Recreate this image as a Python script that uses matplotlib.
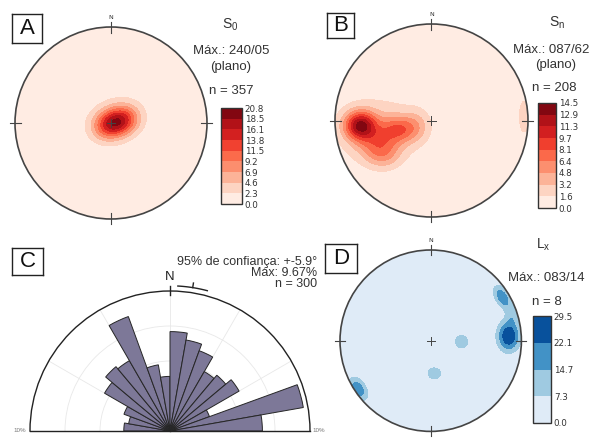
import numpy as np
import matplotlib.pyplot as plt
from matplotlib.patches import Circle

plt.rcParams['font.family'] = ['Liberation Sans', 'DejaVu Sans']
plt.rcParams['mathtext.fontset'] = 'custom'
plt.rcParams['mathtext.rm'] = 'Liberation Sans'

W, H = 597, 438

# --- A: S0 poles (density clusters read from the net: x, y, sx, sy, rot, peak)
a_levels = [0.0, 2.3, 4.6, 6.9, 9.2, 11.5, 13.8, 16.1, 18.5, 20.8]
a_x = [-0.02, 0.12, 0.05]
a_y = [-0.02, 0.03, 0.04]
a_sx = [0.12, 0.12, 0.24]
a_sy = [0.10, 0.10, 0.19]
a_rot = [20, 20, 15]
a_peak = [10.0, 10.0, 3.0]

# --- B: Sn poles
b_levels = [0.0, 1.6, 3.2, 4.8, 6.4, 8.1, 9.7, 11.3, 12.9, 14.5]
b_x = [-0.74, -0.33, -0.55, -0.55, -0.50, -0.15, 0.96]
b_y = [-0.05, -0.09, -0.22, -0.10, -0.36, -0.05, 0.04]
b_sx = [0.11, 0.12, 0.15, 0.32, 0.12, 0.10, 0.05]
b_sy = [0.10, 0.09, 0.13, 0.25, 0.10, 0.12, 0.16]
b_rot = [0, 0, 0, 0, 0, 0, 0]
b_peak = [10.5, 5.0, 4.0, 3.2, 2.5, 2.3, 2.6]

# --- D: Lx lineations
d_levels = [0.0, 7.3, 14.7, 22.1, 29.5]
d_x = [0.86, 0.79, 0.90, 0.34, 0.04, -0.80]
d_y = [0.05, 0.48, 0.29, -0.01, -0.36, -0.53]
d_sx = [0.085, 0.10, 0.05, 0.078, 0.08, 0.10]
d_sy = [0.115, 0.055, 0.08, 0.078, 0.07, 0.06]
d_rot = [0, -60, 0, 0, 0, -57]
d_peak = [29.5, 20.0, 9.0, 10.5, 10.5, 20.0]

# --- C: rose diagram (10 degree bins, % of n = 300)
rose_centers = [-85, -75, -65, -55, -45, -35, -25, -15, -5,
                5, 15, 25, 35, 45, 55, 65, 75, 85]
rose_freq = [3.3, 3.0, 3.5, 5.4, 6.0, 5.8, 8.7, 4.8, 3.9,
             7.1, 6.6, 6.1, 4.9, 5.2, 5.7, 3.0, 9.67, 6.6]
rose_mean = 9.0
rose_conf = 5.9

fig = plt.figure(figsize=(W / 100, H / 100), dpi=100)


def px_axes(left, top, width, height, **kw):
    return fig.add_axes([left / W, 1 - (top + height) / H, width / W, height / H], **kw)


def draw_net(cx, cy, r, blobs, levels, cmap, cbar_box):
    ext = 1.12
    ax = px_axes(cx - ext * r, cy - ext * r, 2 * ext * r, 2 * ext * r)
    ax.set_xlim(-ext, ext)
    ax.set_ylim(-ext, ext)
    ax.axis('off')
    g = np.linspace(-1.02, 1.02, 400)
    X, Y = np.meshgrid(g, g)
    Z = np.zeros_like(X)
    for bx, by, sx, sy, rot, peak in zip(*blobs):
        t = np.deg2rad(rot)
        u = (X - bx) * np.cos(t) + (Y - by) * np.sin(t)
        v = -(X - bx) * np.sin(t) + (Y - by) * np.cos(t)
        Z += peak * np.exp(-0.5 * ((u / sx) ** 2 + (v / sy) ** 2))
    Z = np.clip(Z, levels[0], levels[-1])
    cs = ax.contourf(X, Y, Z, levels=levels, cmap=cmap)
    rim = Circle((0, 0), 1, transform=ax.transData, fc='none', ec='#444', lw=1.2, zorder=3)
    cs.set_clip_path(rim)
    ax.add_patch(rim)
    # cardinal ticks and centre cross
    ax.plot([0, 0], [0.94, 1.05], color='#444', lw=0.8)
    ax.plot([0, 0], [-0.94, -1.05], color='#444', lw=0.8)
    ax.plot([0.94, 1.05], [0, 0], color='#444', lw=0.8)
    ax.plot([-0.94, -1.05], [0, 0], color='#444', lw=0.8)
    ax.plot([-0.045, 0.045], [0, 0], color='#444', lw=0.7)
    ax.plot([0, 0], [-0.045, 0.045], color='#444', lw=0.7)
    ax.text(0, 1.075, 'N', ha='center', va='bottom', fontsize=4.5,
            family='DejaVu Sans', color='#333')
    cax = px_axes(*cbar_box)
    cb = fig.colorbar(cs, cax=cax)
    cb.set_ticks(levels)
    cb.set_ticklabels([f'{v:.1f}' for v in levels])
    cb.ax.tick_params(length=0, labelsize=6.3, pad=2)
    for lab in cb.ax.get_yticklabels():
        lab.set_family('DejaVu Sans')
        lab.set_color('#333')
    cb.outline.set_edgecolor('#333')
    cb.outline.set_linewidth(1.0)
    return ax


def label_box(left, top, w, h, letter):
    bx = px_axes(left, top, w, h)
    bx.set_xticks([])
    bx.set_yticks([])
    for s in bx.spines.values():
        s.set_linewidth(1.0)
        s.set_color('#222')
    bx.text(0.5, 0.5, letter, ha='center', va='center', fontsize=16,
            transform=bx.transAxes, color='#111')


def ftext(x, y, s, size=9.5, ha='center'):
    fig.text(x / W, 1 - y / H, s, ha=ha, va='center', fontsize=size, color='#333')


# A
draw_net(111, 123, 96, (a_x, a_y, a_sx, a_sy, a_rot, a_peak), a_levels, 'Reds',
         (221, 108, 21, 96))
label_box(12, 14, 30, 29, 'A')
ftext(230, 25, r'$\mathrm{S_0}$', size=10)
ftext(231, 51, 'Máx.: 240/05')
ftext(231, 67, '(plano)')
ftext(231, 91, 'n = 357')

# B
draw_net(431.5, 120.5, 96.5, (b_x, b_y, b_sx, b_sy, b_rot, b_peak), b_levels, 'Reds',
         (538, 103, 18, 105))
label_box(327, 13, 27, 25, 'B')
ftext(557, 23, r'$\mathrm{S_n}$', size=10)
ftext(551, 50, 'Máx.: 087/62')
ftext(556, 65, '(plano)')
ftext(554, 88, 'n = 208')

# D
draw_net(430.7, 340.7, 90.7, (d_x, d_y, d_sx, d_sy, d_rot, d_peak), d_levels, 'Blues',
         (533, 316, 18, 107))
label_box(325, 244, 32, 29, 'D')
ftext(543, 245, r'$\mathrm{L_x}$', size=10)
ftext(546, 278, 'Máx.: 083/14')
ftext(547, 302, 'n = 8')

# C - half rose (square box: the semicircle fills its width, centred vertically)
ax = px_axes(30, 221, 280, 280, projection='polar')
ax.set_theta_zero_location('N')
ax.set_theta_direction(-1)
ax.set_thetamin(-90)
ax.set_thetamax(90)
ax.set_ylim(0, 10)
ax.bar(np.deg2rad(rose_centers), rose_freq, width=np.deg2rad(10),
       color='#7d7898', edgecolor='#262626', lw=0.7, zorder=2)
ax.set_yticks([2.5, 5, 7.5])
ax.set_yticklabels([])
ax.set_xticks(np.deg2rad([-60, -30, 0, 30, 60]))
ax.set_xticklabels([])
ax.tick_params(length=0)
ax.grid(color='#e8e8e8', lw=0.6)
for name in ['polar', 'start', 'end']:
    ax.spines[name].set_color('#222')
    ax.spines[name].set_linewidth(1.0)
ax.spines['inner'].set_visible(False)
ax.plot([0, 0], [9.7, 10.35], color='#222', lw=1.0, clip_on=False)
ax.text(0, 10.6, 'N', ha='center', va='bottom', fontsize=9.5, color='#222')
arc = np.deg2rad(np.linspace(rose_mean - rose_conf, rose_mean + rose_conf, 30))
ax.plot(arc, np.full_like(arc, 10.37), color='#222', lw=1.0, clip_on=False)
ax.plot([np.deg2rad(rose_mean)] * 2, [10.37, 10.7], color='#222', lw=1.0, clip_on=False)
ax.text(np.deg2rad(-90), 10.25, '10%', ha='right', va='center', fontsize=4.5, color='#777')
ax.text(np.deg2rad(90), 10.2, '10%', ha='left', va='center', fontsize=4.5, color='#777')
label_box(12, 248, 31, 27, 'C')
ftext(317, 262, '95% de confiança: +-5.9°', size=9, ha='right')
ftext(317, 273, 'Máx: 9.67%', size=9, ha='right')
ftext(317, 284, 'n = 300', size=9, ha='right')

fig.savefig('out.png', dpi=100)
